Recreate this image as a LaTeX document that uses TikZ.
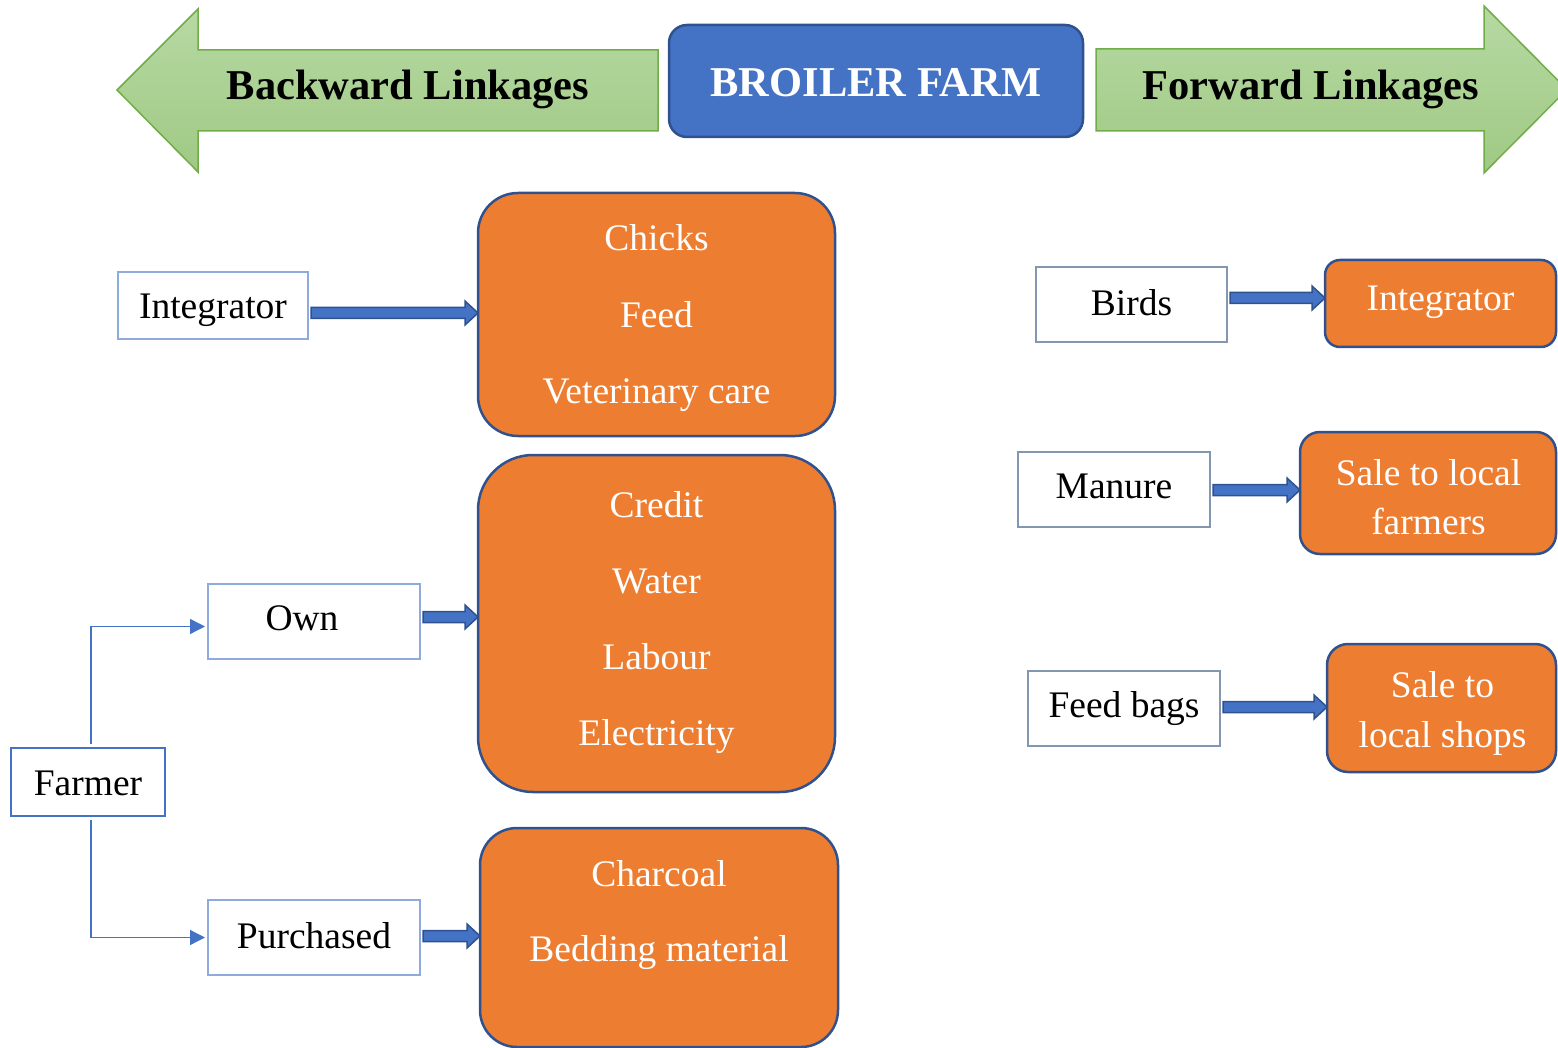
\documentclass[tikz,border=0pt]{standalone}
\usepackage{fontspec}
\setmainfont{Liberation Serif}
\usetikzlibrary{arrows.meta,calc}
\definecolor{orng}{HTML}{ED7D31}
\definecolor{bblue}{HTML}{4472C4}
\definecolor{dblue}{HTML}{2F528F}
\definecolor{lblue}{HTML}{8FAADC}
\definecolor{gblue}{HTML}{8497B0}
\definecolor{gborder}{HTML}{70AD47}
\definecolor{gtop}{HTML}{B6D9A3}
\definecolor{gbot}{HTML}{A0C984}
\newcommand\txtfont[1]{\fontsize{37.5}{#1}\selectfont}
\newcommand\blockarrow[3]{%
  \path[barrow] let \p1=(#1.east), \p2=(#2.west), \p3=(0,#3) in
    (\x1+3,\y3+5.5) -- (\x2-13,\y3+5.5) -- (\x2-13,\y3+12) -- (\x2,\y3)
    -- (\x2-13,\y3-12) -- (\x2-13,\y3-5.5) -- (\x1+3,\y3-5.5) -- cycle;}
\tikzset{
  sz/.style 2 args={minimum width=#1, minimum height=#2, anchor=north west, inner sep=0pt, outer sep=0pt},
  lbox/.style={draw=lblue, line width=2.5pt, fill=white},
  gbox/.style={draw=gblue, line width=2.5pt, fill=white},
  fbox/.style={draw=bblue, line width=2.5pt, fill=white},
  obox/.style={draw=dblue, line width=2.5pt, fill=orng},
  wtext/.style={text=black, align=center, inner sep=0pt, font=\txtfont{44}},
  otext/.style={text=white, align=center, inner sep=0pt, font=\txtfont{44}},
  bigtext/.style={text=black, font=\fontsize{42.5}{50}\selectfont\bfseries, inner sep=0pt},
  bluebox/.style={draw=dblue, line width=2.5pt, fill=bblue, rounded corners=18pt},
  barrow/.style={fill=bblue, draw=dblue, line width=1.5pt},
  conn/.style={draw=bblue, line width=1.3pt, -{Triangle[length=15pt,width=15pt]}},
  garrow/.style={top color=gtop, bottom color=gbot, draw=gborder, line width=1.5pt}
}
\begin{document}
\begin{tikzpicture}[x=1pt,y=-1pt]
\useasboundingbox (0,0) rectangle (1558,1048);
% green header arrows
\shade[garrow] (117,90) -- (198,9) -- (198,50) -- (658,50) -- (658,131) -- (198,131) -- (198,172) -- cycle;
\shade[garrow] (1096,49) -- (1484,49) -- (1484,6) -- (1567,89.5) -- (1484,173) -- (1484,131) -- (1096,131) -- cycle;
\node[bigtext] (back) at (408,89) {Backward Linkages};
\node[bigtext] (fwd) at (1311,89) {Forward Linkages};
\node[bluebox, sz={414}{112}] (broiler) at (669,25) {};
\node[bigtext, text=white] (broilert) at (876,83) {BROILER FARM};
% left side boxes
\node[lbox, sz={190}{67}] (intL) at (118,272) {};
\node[obox, sz={357}{243}, rounded corners=40pt] (chicks) at (478,193) {};
\node[obox, sz={357}{337}, rounded corners=55pt] (credit) at (478,455) {};
\node[obox, sz={358}{219}, rounded corners=37pt] (charcoal) at (480,828) {};
\node[lbox, sz={212}{75}] (own) at (208,584) {};
\node[lbox, sz={212}{75}] (purch) at (208,900) {};
\node[fbox, sz={154}{68}] (farmer) at (11,748) {};
% left side texts
\node[wtext] (intLt) at (213,310) {Integrator};
\node[otext, font=\txtfont{76.5}] (chickst) at (656.5,318.5) {Chicks\\Feed\\Veterinary care};
\node[otext, font=\txtfont{76}] (creditt) at (656.5,622.5) {Credit\\Water\\Labour\\Electricity};
\node[otext, font=\txtfont{75}] (charcoalt) at (659,915) {Charcoal\\Bedding material};
\node[wtext] (ownt) at (302,618.5) {Own};
\node[wtext] (purcht) at (314,935.5) {Purchased};
\node[wtext] (farmert) at (88,783) {Farmer};
% right side boxes
\node[gbox, sz={191}{75}] (birds) at (1036,267) {};
\node[obox, sz={231}{87}, rounded corners=15pt] (intR) at (1325,260) {};
\node[gbox, sz={192}{75}] (manure) at (1018,452) {};
\node[obox, sz={256}{122}, rounded corners=20pt] (farmers) at (1300,432) {};
\node[gbox, sz={192}{75}] (feedbags) at (1028,671) {};
\node[obox, sz={229}{128}, rounded corners=21pt] (shops) at (1327,644) {};
% right side texts
\node[wtext] (birdst) at (1131.5,302.5) {Birds};
\node[otext] (intRt) at (1440.5,302.5) {Integrator};
\node[wtext] (manuret) at (1114,486.5) {Manure};
\node[otext, font=\txtfont{49}] (farmerst) at (1428.5,497) {Sale to local\\farmers};
\node[wtext] (feedbagst) at (1124,708.5) {Feed bags};
\node[otext, font=\txtfont{50}] (shopst) at (1442.5,713) {Sale to\\local shops};
% block arrows
\blockarrow{intL}{chicks}{313}
\blockarrow{own}{credit}{617}
\blockarrow{purch}{charcoal}{936}
\blockarrow{birds}{intR}{298}
\blockarrow{manure}{farmers}{490}
\blockarrow{feedbags}{shops}{707}
% farmer connectors
\draw[conn, shorten <=4pt, shorten >=3pt] ([xshift=3pt]farmer.north) |- ([yshift=-5pt]own.west);
\draw[conn, shorten <=4pt, shorten >=3pt] ([xshift=3pt]farmer.south) |- (purch.west);
\end{tikzpicture}
\end{document}
